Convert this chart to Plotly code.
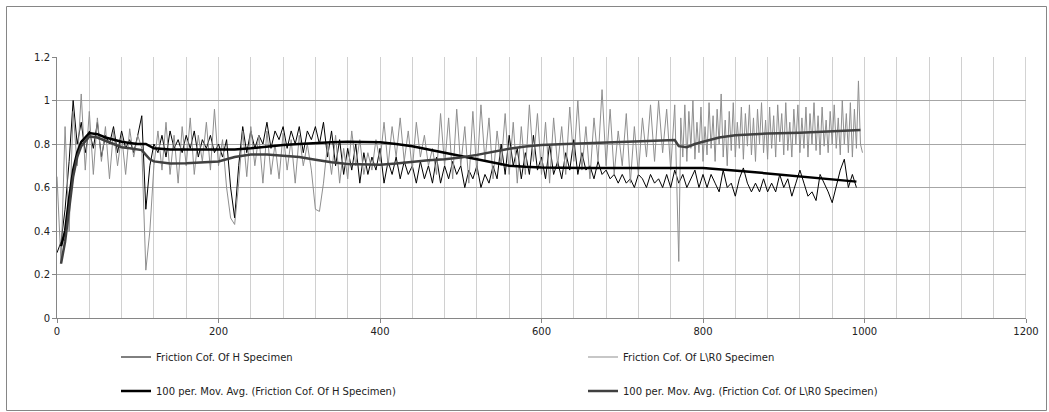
import plotly.graph_objects as go

# ---------------- data ----------------
# L\R0 specimen: every 5 units up to 765, then the denser stretch every 2.5
x_l = list(range(0, 770, 5)) + [770 + 2.5 * i for i in range(92)]
fric_l = [
    0.65, 0.25, 0.88, 0.40, 0.95, 0.70, 1.03, 0.68, 0.95, 0.66,
    0.92, 0.72, 0.88, 0.64, 0.86, 0.70, 0.84, 0.66, 0.87, 0.74,
    0.84, 0.78, 0.22, 0.40, 0.70, 0.86, 0.68, 0.90, 0.66, 0.84,
    0.62, 0.88, 0.70, 0.92, 0.66, 0.84, 0.72, 0.90, 0.68, 0.96,
    0.70, 0.82, 0.60, 0.46, 0.43, 0.62, 0.86, 0.65, 0.88, 0.70,
    0.84, 0.62, 0.86, 0.66, 0.80, 0.64, 0.85, 0.68, 0.82, 0.62,
    0.84, 0.70, 0.80, 0.68, 0.50, 0.49, 0.62, 0.80, 0.66, 0.84,
    0.62, 0.78, 0.64, 0.86, 0.70, 0.82, 0.66, 0.76, 0.68, 0.82,
    0.72, 0.90, 0.70, 0.88, 0.74, 0.92, 0.72, 0.86, 0.68, 0.90,
    0.74, 0.84, 0.70, 0.78, 0.66, 0.94, 0.70, 0.92, 0.64, 0.96,
    0.70, 0.88, 0.62, 0.95, 0.66, 0.98, 0.72, 0.92, 0.64, 0.86,
    0.70, 0.94, 0.66, 0.90, 0.62, 0.88, 0.66, 0.98, 0.72, 0.94,
    0.66, 0.90, 0.62, 0.92, 0.70, 0.88, 0.66, 0.97, 0.72, 1.00,
    0.68, 0.88, 0.64, 0.92, 0.72, 1.05, 0.70, 0.96, 0.66, 0.86,
    0.70, 0.94, 0.62, 0.88, 0.66, 0.92, 0.74, 0.98, 0.72, 1.00,
    0.76, 0.96, 0.68, 0.98,
    # dense stretch 770 .. 997.5
    0.26, 0.92, 0.74, 0.98, 0.72, 0.95, 0.78, 1.00, 0.73, 0.90,
    0.76, 0.97, 0.72, 0.88, 0.75, 0.99, 0.78, 0.93, 0.72, 0.96,
    0.80, 1.03, 0.74, 0.91, 0.70, 0.95, 0.77, 0.99, 0.74, 0.90,
    0.78, 0.97, 0.73, 0.94, 0.79, 0.98, 0.75, 0.92, 0.72, 0.96,
    0.80, 0.99, 0.76, 0.91, 0.73, 0.97, 0.78, 0.93, 0.74, 0.98,
    0.81, 0.94, 0.75, 0.99, 0.77, 0.90, 0.74, 0.96, 0.80, 0.98,
    0.76, 0.92, 0.78, 0.97, 0.74, 0.94, 0.80, 0.99, 0.77, 0.93,
    0.75, 0.97, 0.79, 0.91, 0.76, 0.95, 0.80, 0.98, 0.78, 0.92,
    0.75, 1.00, 0.80, 0.94, 0.76, 0.99, 0.74, 0.96, 0.78, 1.09,
    0.80, 0.76,
]

x_h = list(range(0, 995, 5))    # sample positions for H specimen
fric_h = [
    0.30, 0.35, 0.50, 0.72, 1.00, 0.80, 0.90, 0.76, 0.86, 0.78,
    0.90, 0.74, 0.84, 0.80, 0.88, 0.76, 0.86, 0.78, 0.82, 0.76,
    0.84, 0.93, 0.50, 0.70, 0.80, 0.76, 0.84, 0.74, 0.86, 0.78,
    0.82, 0.76, 0.84, 0.78, 0.86, 0.74, 0.82, 0.78, 0.84, 0.76,
    0.80, 0.74, 0.82, 0.60, 0.46, 0.70, 0.88, 0.76, 0.86, 0.78,
    0.84, 0.80, 0.90, 0.78, 0.86, 0.82, 0.88, 0.78, 0.86, 0.80,
    0.88, 0.76, 0.86, 0.82, 0.88, 0.80, 0.90, 0.74, 0.86, 0.70,
    0.82, 0.66, 0.78, 0.68, 0.80, 0.62, 0.76, 0.66, 0.74, 0.68,
    0.78, 0.62, 0.72, 0.66, 0.74, 0.64, 0.72, 0.66, 0.70, 0.62,
    0.72, 0.64, 0.70, 0.62, 0.74, 0.62, 0.70, 0.64, 0.72, 0.66,
    0.70, 0.60, 0.68, 0.64, 0.70, 0.60, 0.66, 0.62, 0.70, 0.64,
    0.80, 0.66, 0.84, 0.70, 0.78, 0.64, 0.76, 0.66, 0.84, 0.68,
    0.74, 0.64, 0.80, 0.66, 0.72, 0.64, 0.76, 0.68, 0.82, 0.66,
    0.76, 0.68, 0.70, 0.64, 0.72, 0.66, 0.68, 0.64, 0.66, 0.62,
    0.66, 0.62, 0.64, 0.60, 0.66, 0.64, 0.60, 0.66, 0.62, 0.64,
    0.60, 0.66, 0.60, 0.68, 0.62, 0.66, 0.60, 0.64, 0.68, 0.60,
    0.66, 0.60, 0.66, 0.62, 0.58, 0.68, 0.60, 0.62, 0.56, 0.64,
    0.69, 0.62, 0.58, 0.62, 0.58, 0.64, 0.58, 0.62, 0.58, 0.66,
    0.60, 0.64, 0.56, 0.62, 0.68, 0.62, 0.56, 0.58, 0.54, 0.66,
    0.62, 0.58, 0.53, 0.60, 0.68, 0.73, 0.60, 0.66, 0.60,
]

# 100-period moving averages as drawn
avg_h_x = [5, 10, 15, 20, 25, 30, 40, 50, 60, 70, 80, 90, 100, 110, 120, 140,
           160, 180, 200, 220, 240, 260, 280, 300, 320, 340, 360, 380, 400,
           420, 440, 460, 480, 500, 520, 540, 560, 580, 600, 650, 700, 750,
           800, 850, 900, 950, 990]
avg_h_y = [0.33, 0.40, 0.55, 0.68, 0.76, 0.81, 0.85, 0.845, 0.83, 0.82, 0.81,
           0.805, 0.80, 0.80, 0.78, 0.775, 0.775, 0.772, 0.772, 0.775, 0.78,
           0.788, 0.795, 0.80, 0.805, 0.808, 0.81, 0.81, 0.808, 0.80, 0.79,
           0.775, 0.76, 0.745, 0.73, 0.715, 0.70, 0.695, 0.692, 0.69, 0.69,
           0.69, 0.69, 0.675, 0.657, 0.64, 0.627]

avg_l_x = [5, 10, 15, 20, 25, 30, 40, 50, 60, 70, 80, 90, 100, 105, 110, 115,
           120, 140, 160, 180, 200, 220, 240, 260, 280, 300, 320, 340, 360,
           380, 400, 420, 440, 460, 480, 500, 520, 540, 560, 580, 600, 630,
           660, 700, 740, 765, 770, 780, 790, 800, 820, 840, 880, 920, 960, 995]
avg_l_y = [0.25, 0.35, 0.50, 0.65, 0.74, 0.79, 0.835, 0.83, 0.815, 0.80,
           0.785, 0.78, 0.775, 0.772, 0.75, 0.73, 0.72, 0.71, 0.712, 0.716,
           0.72, 0.74, 0.752, 0.752, 0.746, 0.74, 0.728, 0.716, 0.708, 0.705,
           0.705, 0.71, 0.718, 0.725, 0.73, 0.738, 0.75, 0.765, 0.778, 0.788,
           0.795, 0.80, 0.805, 0.81, 0.815, 0.818, 0.79, 0.785, 0.80, 0.81,
           0.83, 0.84, 0.848, 0.852, 0.858, 0.864]

names = [
    "Friction Cof. Of H Specimen",
    "Friction Cof. Of L\\R0 Specimen",
    "100 per. Mov. Avg. (Friction Cof. Of H Specimen)",
    "100 per. Mov. Avg. (Friction Cof. Of L\\R0 Specimen)",
]
x_ticks = [0, 200, 400, 600, 800, 1000, 1200]
y_ticks = [0, 0.2, 0.4, 0.6, 0.8, 1, 1.2]
y_tick_text = ["0", "0.2", "0.4", "0.6", "0.8", "1", "1.2"]

# ---------------- figure ----------------
fig = go.Figure()
fig.add_trace(go.Scatter(x=x_h, y=fric_h, mode="lines", name=names[0],
                         line=dict(color="#000000", width=1), legend="legend2"))
fig.add_trace(go.Scatter(x=x_l, y=fric_l, mode="lines", name=names[1],
                         line=dict(color="#8f8f8f", width=1), legend="legend3"))
fig.add_trace(go.Scatter(x=avg_h_x, y=avg_h_y, mode="lines", name=names[2],
                         line=dict(color="#000000", width=2.5), legend="legend4"))
fig.add_trace(go.Scatter(x=avg_l_x, y=avg_l_y, mode="lines", name=names[3],
                         line=dict(color="#404040", width=2.5), legend="legend5"))

L, R, T, B = 57, 23, 57, 94
W, H = 1049, 412
pw, ph = W - L - R, H - T - B


def px_x(p):
    return (p - L) / pw


def px_y(p):
    return (H - B - p) / ph


legend_font = dict(family="DejaVu Sans", size=10, color="#222222")


def leg(xp, yp):
    return dict(orientation="h", xanchor="left", yanchor="middle",
                x=px_x(xp), y=px_y(yp), font=legend_font,
                bgcolor="rgba(0,0,0,0)", borderwidth=0)


fig.update_layout(
    width=W, height=H,
    margin=dict(l=L, r=R, t=T, b=B, autoexpand=False),
    paper_bgcolor="white", plot_bgcolor="white",
    font=dict(family="DejaVu Sans", size=10, color="#222222"),
    showlegend=True,
    legend2=leg(116, 357),
    legend3=leg(583, 357),
    legend4=leg(116, 391),
    legend5=leg(583, 391),
    xaxis=dict(range=[0, 1200], tickvals=x_ticks, ticks="outside", ticklen=4,
               tickcolor="#868686", showgrid=True, gridcolor="#d0d0d0",
               minor=dict(dtick=40, showgrid=True, gridcolor="#d0d0d0",
                          ticks=""),
               showline=True, linecolor="#868686", linewidth=1,
               zeroline=False, tickfont=dict(size=10), automargin=False),
    yaxis=dict(range=[0, 1.2], tickvals=y_ticks, ticktext=y_tick_text,
               ticks="outside", ticklen=4, tickcolor="#868686",
               showgrid=True, gridcolor="#a6a6a6",
               showline=True, linecolor="#868686", linewidth=1,
               zeroline=False, tickfont=dict(size=10), automargin=False),
    shapes=[
        dict(type="rect", xref="paper", yref="paper",
             x0=px_x(6.5), x1=px_x(1046.5), y0=px_y(410.5), y1=px_y(6.5),
             line=dict(color="#868686", width=1), layer="below"),
        dict(type="line", xref="x", yref="paper", x0=1200, x1=1200, y0=0, y1=1,
             line=dict(color="#a6a6a6", width=1)),
    ],
)

fig.write_html("out.html", config={"displayModeBar": False},
               post_script="document.body.style.margin='0';")
